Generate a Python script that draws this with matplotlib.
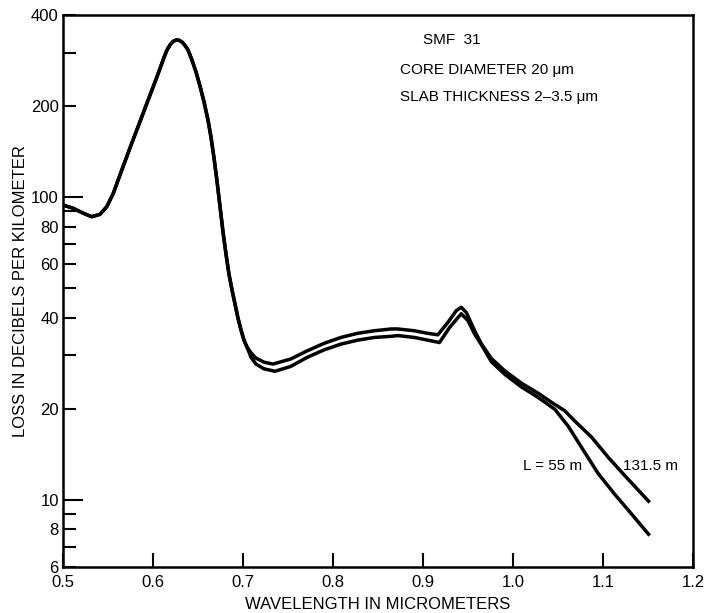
# %%
import numpy as np
import matplotlib
matplotlib.use('Agg')
import matplotlib.pyplot as plt
from matplotlib.ticker import FixedLocator, FuncFormatter

plt.rcParams['font.family'] = ['Liberation Sans', 'DejaVu Sans']

# %%
# part of the curve where both lengths coincide (0.5 - 0.70 um)
wl_shared = [0.500, 0.5114, 0.5226, 0.5319, 0.5411, 0.5486, 0.5559, 0.5633, 0.5744, 0.5856,
             0.5967, 0.6022, 0.6078, 0.6122, 0.6156, 0.6189, 0.6222, 0.6256, 0.6289, 0.6322,
             0.6356, 0.6389, 0.6433, 0.6478, 0.6522, 0.6567, 0.6611, 0.6644, 0.6678, 0.6711,
             0.6744, 0.6778, 0.6811, 0.6844, 0.6878, 0.6911, 0.6944, 0.6978, 0.7011, 0.7044]
loss_shared = [94.2, 91.9, 88.5, 86.2, 87.8, 93.0, 103.0, 118.4, 145.4, 177.9,
               217.6, 240.2, 266.2, 289.5, 306.6, 318.4, 327.0, 330.6, 330.0, 325.7,
               317.2, 306.5, 284.0, 259.2, 233.0, 206.4, 179.9, 158.1, 134.7, 113.1,
               93.5, 76.7, 64.9, 55.7, 49.4, 44.4, 39.9, 36.4, 33.7, 32.0]

wl_131 = [0.7089, 0.7144, 0.7233, 0.7333, 0.753, 0.7716, 0.7901, 0.8087, 0.8273, 0.8459,
          0.8645, 0.872, 0.8905, 0.9054, 0.9165, 0.9277, 0.937, 0.9425, 0.9481, 0.9574,
          0.9648, 0.976, 0.9908, 1.0094, 1.028, 1.0428, 1.0575, 1.0688, 1.0874, 1.106,
          1.1245, 1.1506]
loss_131 = [30.6, 29.4, 28.5, 28.1, 29.2, 31.1, 32.9, 34.4, 35.5, 36.2,
            36.7, 36.7, 36.2, 35.5, 35.1, 38.6, 42.2, 43.3, 41.6, 36.2,
            32.8, 29.3, 26.7, 24.3, 22.5, 21.0, 19.7, 18.2, 16.1, 13.8,
            12.0, 9.9]

wl_55 = [0.7089, 0.7144, 0.7233, 0.7356, 0.753, 0.7716, 0.7901, 0.8087, 0.8273, 0.8459,
         0.8645, 0.872, 0.8905, 0.9054, 0.9183, 0.9295, 0.9425, 0.950, 0.9574, 0.9648,
         0.976, 0.9908, 1.0094, 1.028, 1.0466, 1.0614, 1.0762, 1.0948, 1.1134, 1.132,
         1.1506]
loss_55 = [29.6, 28.1, 27.1, 26.6, 27.6, 29.6, 31.3, 32.7, 33.7, 34.4,
           34.7, 34.9, 34.4, 33.7, 33.1, 37.1, 41.2, 39.1, 35.3, 32.6,
           28.6, 26.0, 23.6, 21.8, 19.9, 17.5, 14.9, 12.2, 10.4, 8.96,
           7.7]

x_ticks = [0.5, 0.6, 0.7, 0.8, 0.9, 1.0, 1.1, 1.2]
y_long = [10, 100]
y_short = [6, 7, 8, 9, 20, 30, 40, 50, 60, 70, 80, 90, 200, 300, 400]
y_labeled = [6, 8, 10, 20, 40, 60, 80, 100, 200, 400]

# %%
fig = plt.figure(figsize=(7.05, 6.13), dpi=100)
ax = fig.add_axes([63/705, 46/613, 630/705, 552/613])

ax.plot(wl_shared + wl_131, loss_shared + loss_131, color='black', lw=2.5, solid_joinstyle='round')
ax.plot(wl_shared + wl_55, loss_shared + loss_55, color='black', lw=2.5, solid_joinstyle='round')

ax.set_yscale('log')
ax.set_xlim(0.5, 1.2)
ax.set_ylim(6, 400)

ax.xaxis.set_major_locator(FixedLocator(x_ticks))
ax.xaxis.set_major_formatter(FuncFormatter(lambda v, p: f'{v:.1f}'))
ax.xaxis.set_minor_locator(FixedLocator([]))
ax.yaxis.set_major_locator(FixedLocator(y_long))
ax.yaxis.set_minor_locator(FixedLocator(y_short))
lab = lambda v, p: f'{v:g}' if round(v) in y_labeled else ''
ax.yaxis.set_major_formatter(FuncFormatter(lab))
ax.yaxis.set_minor_formatter(FuncFormatter(lab))

ax.tick_params(axis='both', which='both', direction='in', width=1.5, labelsize=12, colors='black')
ax.tick_params(axis='y', which='major', length=14.5, pad=3)
ax.tick_params(axis='y', which='minor', length=9.5, pad=3)
ax.tick_params(axis='x', which='major', length=10, pad=6)

for s in ax.spines.values():
    s.set_linewidth(1.8)

ax.set_xlabel('WAVELENGTH IN MICROMETERS', fontsize=12, labelpad=5)
ax.set_ylabel('LOSS IN DECIBELS PER KILOMETER', fontsize=12, labelpad=2)

# %%
ax.text(0.900, 330, 'SMF  31', fontsize=11, va='center', ha='left')
ax.text(0.8744, 263, 'CORE DIAMETER 20 μm', fontsize=11, va='center', ha='left')
ax.text(0.8744, 214, 'SLAB THICKNESS 2–3.5 μm', fontsize=11, va='center', ha='left')
ax.text(1.0767, 12.9, 'L = 55 m', fontsize=11, va='center', ha='right')
ax.text(1.1222, 12.9, '131.5 m', fontsize=11, va='center', ha='left')

fig.savefig('out.png', dpi=100)
